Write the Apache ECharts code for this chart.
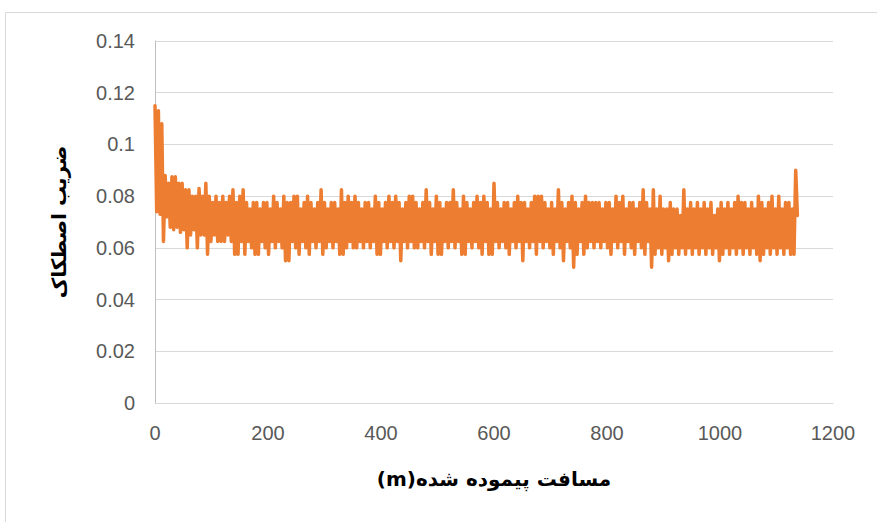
<!DOCTYPE html>
<html>
<head>
<meta charset="utf-8">
<script src="https://cdn.jsdelivr.net/npm/echarts@6/dist/echarts.min.js"></script>
<style>
  html, body { margin: 0; padding: 0; background: #fff; }
  #chart { width: 877px; height: 522px; }
</style>
</head>
<body>
<div id="chart"></div>
<script>
// Friction coefficient sampled every 3 m of sliding distance
const sampleStep = 3;
const friction = [
  0.115,0.074,0.113,0.073,0.108,0.0625,0.088,0.072,0.085,0.068,0.0875,0.067,0.0875,0.068,0.085,0.066,0.085,0.067,0.0825,0.06,
  0.0825,0.065,0.08,0.067,0.08,0.06,0.083,0.065,0.08,0.065,0.085,0.0575,0.08,0.0625,0.0775,0.065,0.08,0.0625,0.0775,0.0625,
  0.08,0.0625,0.0775,0.065,0.08,0.0625,0.0825,0.0575,0.0775,0.0575,0.08,0.0625,0.0825,0.0575,0.0775,0.0625,0.075,0.06,0.0775,0.0575,
  0.0775,0.0575,0.075,0.0625,0.0775,0.06,0.0775,0.0575,0.075,0.0625,0.08,0.06,0.0775,0.0625,0.075,0.06,0.08,0.055,0.0775,0.055,
  0.0775,0.0625,0.08,0.06,0.08,0.0575,0.075,0.0625,0.0775,0.06,0.08,0.0575,0.0775,0.0625,0.075,0.06,0.0775,0.0625,0.0825,0.0575,
  0.0775,0.06,0.075,0.0625,0.0775,0.06,0.0775,0.0625,0.075,0.0575,0.0825,0.0575,0.0775,0.06,0.08,0.0625,0.0775,0.06,0.08,0.06,
  0.0775,0.0625,0.075,0.06,0.0775,0.0625,0.0775,0.06,0.075,0.0625,0.08,0.0575,0.0775,0.0575,0.075,0.0625,0.0775,0.06,0.08,0.0625,
  0.0775,0.06,0.08,0.0625,0.0775,0.055,0.075,0.0625,0.0775,0.06,0.08,0.0625,0.08,0.06,0.0775,0.06,0.075,0.0625,0.0775,0.06,
  0.0825,0.0625,0.0775,0.0575,0.075,0.0625,0.08,0.0575,0.0775,0.0575,0.075,0.0625,0.0775,0.06,0.0775,0.0625,0.0825,0.06,0.0775,0.0625,
  0.075,0.0575,0.08,0.0575,0.0775,0.0625,0.075,0.06,0.0775,0.0625,0.08,0.06,0.0775,0.0575,0.08,0.0625,0.0775,0.0575,0.075,0.0575,
  0.085,0.0625,0.0775,0.06,0.075,0.0625,0.0775,0.06,0.0775,0.0575,0.075,0.0625,0.0775,0.06,0.08,0.0625,0.0775,0.055,0.0775,0.0625,
  0.075,0.06,0.0775,0.0625,0.08,0.0575,0.08,0.0625,0.08,0.06,0.0775,0.0625,0.075,0.06,0.0775,0.0575,0.075,0.0625,0.0825,0.06,
  0.0775,0.055,0.075,0.0625,0.0775,0.06,0.08,0.0525,0.0775,0.0575,0.075,0.0625,0.0775,0.0575,0.08,0.06,0.0775,0.0625,0.0775,0.06,
  0.0775,0.0625,0.0775,0.06,0.075,0.0625,0.0775,0.06,0.0775,0.0575,0.075,0.0625,0.08,0.06,0.0775,0.0625,0.08,0.0575,0.075,0.0625,
  0.0775,0.06,0.0775,0.0575,0.075,0.0625,0.0775,0.06,0.0825,0.0575,0.0775,0.0625,0.075,0.0525,0.0825,0.0575,0.075,0.06,0.08,0.0575,
  0.075,0.06,0.075,0.055,0.0775,0.0575,0.075,0.06,0.075,0.0575,0.0725,0.06,0.0825,0.0575,0.075,0.06,0.0775,0.0575,0.075,0.06,
  0.0775,0.0575,0.075,0.06,0.0775,0.0575,0.075,0.06,0.0775,0.0575,0.0725,0.06,0.075,0.055,0.0775,0.0575,0.075,0.06,0.0775,0.0575,
  0.075,0.06,0.0775,0.0575,0.08,0.06,0.0775,0.0575,0.0775,0.06,0.075,0.0575,0.0775,0.06,0.075,0.0575,0.08,0.055,0.0775,0.0575,
  0.075,0.06,0.0775,0.0575,0.08,0.06,0.075,0.0575,0.08,0.06,0.075,0.0575,0.0775,0.06,0.0775,0.0575,0.075,0.0575,0.09,0.0725
];

// Axis titles (the distance title is wrapped in a right-to-left embedding) and ranges
const xAxisTitle = '\u202Bمسافت پیموده شده(m)\u202C';
const yAxisTitle = 'ضریب اصطکاک';
const xRange = [0, 1200, 200];
const yRange = [0, 0.14, 0.02];

const points = friction.map((v, i) => [i * sampleStep, v]);

const labelFont = { color: '#595959', fontSize: 20, fontFamily: 'Liberation Sans, Arial, sans-serif' };
const nameFont = { color: '#000', fontSize: 20, fontWeight: 'bold', fontFamily: 'DejaVu Sans, sans-serif' };
const plainNumber = v => String(v);

const chart = echarts.init(document.getElementById('chart'), null, { renderer: 'svg' });
chart.setOption({
  animation: false,
  backgroundColor: '#fff',
  grid: { left: 155, right: 44, top: 41, bottom: 119, containLabel: false },
  graphic: [{
    type: 'rect',
    shape: { x: 5.5, y: 12.5, width: 900, height: 530 },
    style: { fill: null, stroke: '#d9d9d9', lineWidth: 1 },
    silent: true
  }],
  xAxis: {
    type: 'value',
    min: xRange[0], max: xRange[1], interval: xRange[2],
    name: xAxisTitle,
    nameLocation: 'middle',
    nameGap: 66,
    nameTextStyle: nameFont,
    axisLine: { show: true, lineStyle: { color: '#d9d9d9', width: 1 } },
    axisTick: { show: false },
    axisLabel: Object.assign({ margin: 20, formatter: plainNumber }, labelFont),
    splitLine: { show: false }
  },
  yAxis: {
    type: 'value',
    min: yRange[0], max: yRange[1], interval: yRange[2],
    name: yAxisTitle,
    nameLocation: 'middle',
    nameGap: 86,
    nameRotate: 90,
    nameTextStyle: nameFont,
    axisLine: { show: true, lineStyle: { color: '#bfbfbf', width: 1 } },
    axisTick: { show: false },
    axisLabel: Object.assign({ margin: 20, formatter: plainNumber }, labelFont),
    splitLine: { show: true, lineStyle: { color: '#d9d9d9', width: 1 } }
  },
  series: [{
    type: 'line',
    data: points,
    showSymbol: false,
    symbol: 'none',
    lineStyle: { color: '#ED7D31', width: 3.5, join: 'round', cap: 'round' },
    itemStyle: { color: '#ED7D31' }
  }]
});
</script>
</body>
</html>
